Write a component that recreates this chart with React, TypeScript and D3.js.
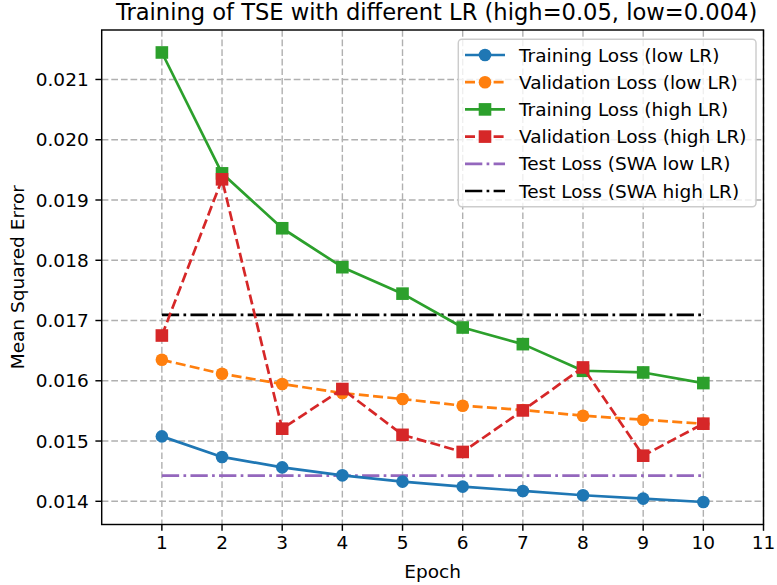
import React from "react";
import * as d3 from "d3";

// Epoch indices shared by every series
const epochs = [1, 2, 3, 4, 5, 6, 7, 8, 9, 10];

// Mean squared error per epoch
const trainLow = [0.015077, 0.014736, 0.014563, 0.014431, 0.014326, 0.014244, 0.014172, 0.0141, 0.014045, 0.013988];
const valLow = [0.016348, 0.016116, 0.015946, 0.015796, 0.015697, 0.015586, 0.015515, 0.01542, 0.015354, 0.015288];
const trainHigh = [0.021448, 0.019442, 0.018531, 0.017885, 0.017446, 0.016884, 0.016608, 0.016166, 0.016138, 0.015962];
const valHigh = [0.016751, 0.019343, 0.015205, 0.015863, 0.015103, 0.014819, 0.015508, 0.016221, 0.014757, 0.015288];

// SWA test losses drawn as flat reference lines across the epochs
const swaLow = 0.014426;
const swaHigh = 0.017095;

const xTicks = [1, 2, 3, 4, 5, 6, 7, 8, 9, 10, 11];
const yTicks = [0.014, 0.015, 0.016, 0.017, 0.018, 0.019, 0.02, 0.021];

const title = "Training of TSE with different LR (high=0.05, low=0.004)";
const xLabel = "Epoch";
const yLabel = "Mean Squared Error";

const W = 777;
const H = 585;
const left = 101.7;
const right = 763.5;
const top = 30;
const bottom = 524.5;

const FONT = "DejaVu Sans, sans-serif";
const FS = 18.5;
const LW = 2.7;

type Series = {
  name: string;
  values: number[];
  color: string;
  dash: string | null;
  marker: "circle" | "square";
};

const series: Series[] = [
  { name: "Training Loss (low LR)", values: trainLow, color: "#1f77b4", dash: null, marker: "circle" },
  { name: "Validation Loss (low LR)", values: valLow, color: "#ff7f0e", dash: "10,4.3", marker: "circle" },
  { name: "Training Loss (high LR)", values: trainHigh, color: "#2ca02c", dash: null, marker: "square" },
  { name: "Validation Loss (high LR)", values: valHigh, color: "#d62728", dash: "10,4.3", marker: "square" },
];

const refLines = [
  { name: "Test Loss (SWA low LR)", value: swaLow, color: "#9467bd" },
  { name: "Test Loss (SWA high LR)", value: swaHigh, color: "#000000" },
];

const DASHDOT = "17.3,4.3,2.7,4.3";

function Marker({ kind, x, y, color }: { kind: string; x: number; y: number; color: string }) {
  if (kind === "circle") {
    return <circle cx={x} cy={y} r={6.3} fill={color} />;
  }
  return <rect x={x - 6.3} y={y - 6.3} width={12.6} height={12.6} fill={color} />;
}

export default function App() {
  const x = d3.scaleLinear().domain([0, 11]).range([left, right]);
  const yMin = 0.013988;
  const yMax = 0.021448;
  const pad = (yMax - yMin) * 0.05;
  const y = d3.scaleLinear().domain([yMin - pad, yMax + pad]).range([bottom, top]);

  const line = d3
    .line<number>()
    .x((_, i) => x(epochs[i]))
    .y((d) => y(d));

  const legendX = 458.3;
  const legendY = 39.3;
  const legendW = 297.7;
  const legendH = 167.4;
  const rowH = 27.2;

  const legendItems = [
    ...series.map((s) => ({ name: s.name, color: s.color, dash: s.dash, marker: s.marker as string | null })),
    ...refLines.map((r) => ({ name: r.name, color: r.color, dash: DASHDOT, marker: null as string | null })),
  ];

  return (
    <svg
      width={W}
      height={H}
      style={{ position: "absolute", left: 0, top: 0, background: "#fff" }}
      fontFamily={FONT}
    >
      <rect x={0} y={0} width={W} height={H} fill="#fff" />
      <defs>
        <clipPath id="plot-area">
          <rect x={left} y={top} width={right - left} height={bottom - top} />
        </clipPath>
      </defs>

      {/* grid */}
      <g stroke="#b0b0b0" strokeWidth={1.4} strokeDasharray="6.7,2.9">
        {xTicks.map((t) => (
          <line key={"gx" + t} x1={x(t)} x2={x(t)} y1={top} y2={bottom} />
        ))}
        {yTicks.map((t) => (
          <line key={"gy" + t} x1={left} x2={right} y1={y(t)} y2={y(t)} />
        ))}
      </g>

      {/* SWA reference lines */}
      <g clipPath="url(#plot-area)">
        {refLines.map((r) => (
          <line
            key={r.name}
            x1={x(epochs[0])}
            x2={x(epochs[epochs.length - 1])}
            y1={y(r.value)}
            y2={y(r.value)}
            stroke={r.color}
            strokeWidth={LW}
            strokeDasharray={DASHDOT}
          />
        ))}
      </g>

      {/* loss curves */}
      <g clipPath="url(#plot-area)">
        {series.map((s) => (
          <g key={s.name}>
            <path
              d={line(s.values) || ""}
              fill="none"
              stroke={s.color}
              strokeWidth={LW}
              strokeDasharray={s.dash || undefined}
              strokeLinejoin="round"
            />
            {s.values.map((v, i) => (
              <Marker key={i} kind={s.marker} x={x(epochs[i])} y={y(v)} color={s.color} />
            ))}
          </g>
        ))}
      </g>

      {/* spines */}
      <rect x={left} y={top} width={right - left} height={bottom - top} fill="none" stroke="#000" strokeWidth={1.44} />

      {/* x axis ticks */}
      <g fontSize={FS} fill="#000" textAnchor="middle">
        {xTicks.map((t) => (
          <g key={"xt" + t}>
            <line x1={x(t)} x2={x(t)} y1={bottom} y2={bottom + 6.3} stroke="#000" strokeWidth={1.44} />
            <text x={x(t)} y={bottom + 10} dy="0.76em">
              {t}
            </text>
          </g>
        ))}
      </g>

      {/* y axis ticks */}
      <g fontSize={FS} fill="#000" textAnchor="end">
        {yTicks.map((t) => (
          <g key={"yt" + t}>
            <line x1={left - 6.3} x2={left} y1={y(t)} y2={y(t)} stroke="#000" strokeWidth={1.44} />
            <text x={left - 13} y={y(t)} dy="0.36em">
              {d3.format(".3f")(t)}
            </text>
          </g>
        ))}
      </g>

      {/* axis labels and title */}
      <text x={(left + right) / 2} y={578} fontSize={FS} textAnchor="middle" fill="#000">
        {xLabel}
      </text>
      <text
        transform={`translate(24,${(top + bottom) / 2}) rotate(-90)`}
        fontSize={FS}
        textAnchor="middle"
        fill="#000"
      >
        {yLabel}
      </text>
      <text x={(left + right) / 2 + 4} y={20} fontSize={22.6} textAnchor="middle" fill="#000">
        {title}
      </text>

      {/* legend */}
      <g>
        <rect
          x={legendX}
          y={legendY}
          width={legendW}
          height={legendH}
          rx={3.6}
          fill="#fff"
          fillOpacity={0.8}
          stroke="#cccccc"
          strokeWidth={1.44}
        />
        {legendItems.map((it, i) => {
          const cy = legendY + 15.7 + i * rowH;
          return (
            <g key={it.name}>
              <line
                x1={465}
                x2={505}
                y1={cy}
                y2={cy}
                stroke={it.color}
                strokeWidth={LW}
                strokeDasharray={it.dash || undefined}
              />
              {it.marker && <Marker kind={it.marker} x={485} y={cy} color={it.color} />}
              <text x={519} y={cy} dy="0.36em" fontSize={FS} fill="#000">
                {it.name}
              </text>
            </g>
          );
        })}
      </g>
    </svg>
  );
}
